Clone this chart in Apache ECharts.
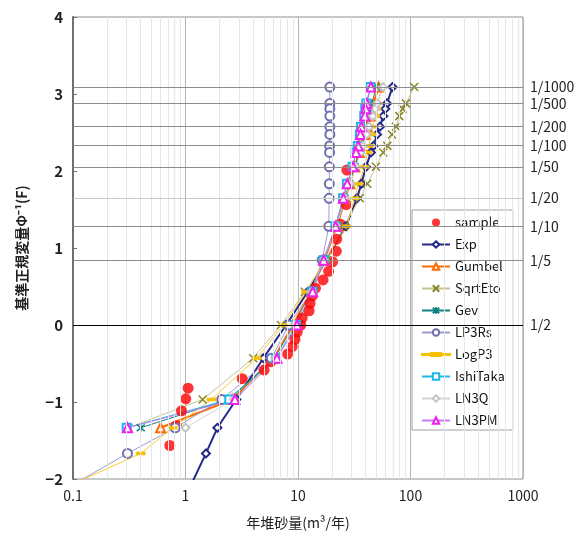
<!DOCTYPE html>
<html lang="ja">
<head>
<meta charset="UTF-8">
<title>年堆砂量 確率紙</title>
<script src="https://cdn.jsdelivr.net/npm/echarts@6/dist/echarts.min.js"></script>
<style>
  html, body { margin: 0; padding: 0; background: #fff; }
  #main { width: 588px; height: 538px; }
</style>
</head>
<body>
<div id="main"></div>
<script type="text/javascript">
// 基準正規変量（確率年ごと）
var zLevels = [3.090, 2.878, 2.807, 2.713, 2.576, 2.475, 2.326, 2.241, 2.054, 1.834, 1.645, 1.282, 0.842, 0.431, 0, -0.431, -0.967, -1.335, -1.668, -2.326];

// 標本（Cunnane プロット位置）
var sampleZ = [2.013, 1.565, 1.307, 1.115, 0.958, 0.820, 0.697, 0.585, 0.478, 0.377, 0.280, 0.185, 0.092, 0, -0.092, -0.185, -0.280, -0.377, -0.478, -0.585, -0.697, -0.820, -0.958, -1.115, -1.307, -1.565];
var sampleVals = [27.2, 26.8, 23.9, 22.1, 21.9, 20.3, 18.7, 16.7, 14.3, 13.4, 12.8, 12.55, 10.9, 10.6, 9.84, 9.39, 8.88, 8.08, 5.74, 5.0, 3.19, 1.055, 1.006, 0.921, 0.828, 0.725];

// 各分布の推定値
var expVals     = [69.2, 61.8, 59.7, 57.3, 53.5, 50.4, 46.9, 44.5, 40.2, 36.6, 33.4, 26.7, 17.7, 12.2, 7.85, 4.92, 2.83, 1.92, 1.52, 0.93];
var gumbelVals  = [52, 47, 45.5, 43.8, 41.0, 39.2, 36.6, 35.1, 32.0, 28.9, 26.4, 22.2, 17.1, 13.1, 9.0, 6.1, 2.6, 0.6];
var sqrtEtoVals = [108, 91.2, 85.2, 79.5, 74.3, 68.4, 62.2, 57.3, 49.3, 41.3, 35.5, 25.6, 18.1, 11.5, 7.05, 4.0, 1.42, 0.31];
var gevVals     = [49.5, 45.5, 44.2, 42.6, 40.2, 38.5, 36.1, 34.7, 32.0, 28.6, 26.0, 21.9, 16.9, 13.2, 9.2, 6.2, 2.4, 0.4];
var lp3rsVals   = [19.2, 19.2, 19.2, 19.2, 19.2, 19.2, 19.1, 19.1, 19.0, 19.0, 18.9, 18.8, 16.4, 13.1, 8.3, 5.8, 2.1, 0.81, 0.305, 0.05];
var logp3Vals   = [56, 51, 50, 48.7, 46, 44.9, 42.7, 41.4, 39.2, 34.5, 31.7, 27.2, 17.3, 11.8, 7.4, 4.3, 1.7, 0.77, 0.4, 0.04];
var ishiTakaVals= [44.0, 40.5, 39.6, 38.8, 36.3, 35.5, 34.0, 32.5, 30.6, 27.2, 25.1, 21.5, 16.9, 13.4, 9.6, 6.4, 2.45, 0.3];
var ln3qVals    = [57, 50.5, 48.6, 46.2, 42.8, 40.6, 37.6, 35.9, 32.6, 29.0, 26.2, 22.0, 16.9, 13.3, 9.3, 6.3, 2.7, 1.0];
var ln3pmVals   = [44.5, 40.8, 40.0, 39.2, 36.6, 35.9, 34.3, 32.8, 30.9, 27.4, 25.3, 21.6, 16.9, 13.5, 9.8, 6.5, 2.75, 0.305];

// 目盛
var xTicks = [0.1, 1, 10, 100, 1000];
var xTickLabels = ['0.1', '1', '10', '100', '1000'];
var rpZ = [3.090, 2.878, 2.576, 2.326, 2.054, 1.645, 1.282, 0.842, 0];
var rpLabels = ['1/1000', '1/500', '1/200', '1/100', '1/50', '1/20', '1/10', '1/5', '1/2'];

var FONT = 'Noto Sans CJK JP';

// 副目盛（2～9）
var xMinor = [];
for (var d = 0; d < 4; d++) {
    for (var m = 2; m <= 9; m++) {
        xMinor.push(m * xTicks[d]);
    }
}

function pairs(vals) {
    var out = [];
    for (var i = 0; i < vals.length; i++) {
        if (vals[i] != null) out.push([vals[i], zLevels[i]]);
    }
    return out;
}

function lineSeries(name, vals, color, lineColor, width, symbol, size, bw) {
    return {
        name: name,
        type: 'line',
        data: pairs(vals),
        symbol: symbol,
        symbolSize: size,
        showAllSymbol: true,
        z: 3,
        lineStyle: { color: lineColor, width: width },
        itemStyle: { color: color, borderColor: color, borderWidth: bw || 1.2 },
        emphasis: { disabled: true }
    };
}

var myChart = echarts.init(document.getElementById('main'));

var rpLines = [];
for (var i = 0; i < rpZ.length; i++) {
    var c = '#8c8c8c';
    if (rpZ[i] === 0) c = '#000000';
    else if (rpLabels[i] === '1/20') c = '#c8c8c8';
    rpLines.push({ yAxis: rpZ[i], label: { formatter: rpLabels[i] }, lineStyle: { color: c, width: 1, type: 'solid' } });
}

var legendNames = ['sample', 'Exp', 'Gumbel', 'SqrtEto', 'Gev', 'LP3Rs', 'LogP3', 'IshiTaka', 'LN3Q', 'LN3PM'];
var legendData = legendNames.map(function (n) {
    if (n === 'sample') return { name: n, icon: 'circle', itemStyle: { color: '#ff0000' } };
    if (n === 'LogP3') return { name: n, icon: 'path://M0,4.5L28,4.5L28,5.5L0,5.5Z M9,3.5L19,3.5L19,6.5L9,6.5Z' };
    return { name: n };
});

var option = {
    animation: false,
    grid: {
        left: 73, right: 65, top: 17, bottom: 59,
        show: true, borderColor: '#909090', borderWidth: 1
    },
    legend: {
        orient: 'vertical',
        left: 412, top: 210,
        padding: [6, 8, 3, 9],
        itemWidth: 28, itemHeight: 8, itemGap: 9,
        backgroundColor: '#fff',
        borderColor: '#a0a0a0', borderWidth: 1,
        textStyle: { fontFamily: FONT, fontSize: 13, color: '#111' },
        data: legendData
    },
    xAxis: {
        type: 'log', logBase: 10, min: 0.1, max: 1000,
        name: '年堆砂量(m³/年)',
        nameLocation: 'middle', nameGap: 37,
        nameTextStyle: { fontFamily: FONT, fontSize: 14, color: '#222' },
        axisLine: { show: true, lineStyle: { color: '#909090' } },
        axisTick: { show: false },
        axisLabel: {
            fontFamily: FONT, fontSize: 14, color: '#222', margin: 10,
            formatter: function (v) {
                for (var k = 0; k < xTicks.length; k++) {
                    if (Math.abs(Math.log10(v) - Math.log10(xTicks[k])) < 1e-6) return xTickLabels[k];
                }
                return '';
            }
        },
        splitLine: { show: true, lineStyle: { color: '#b4b4b4', width: 1 } }
    },
    yAxis: {
        type: 'value', min: -2, max: 4, interval: 1,
        name: '基準正規変量Φ⁻¹(F)',
        nameLocation: 'middle', nameGap: 44,
        nameTextStyle: { fontFamily: FONT, fontSize: 14, fontWeight: 'bold', color: '#222' },
        axisLine: { show: true, lineStyle: { color: '#707070', width: 2 } },
        axisTick: { show: true, inside: true, length: 4, lineStyle: { color: '#707070' } },
        axisLabel: {
            fontFamily: FONT, fontSize: 15, fontWeight: 'bold', color: '#222', margin: 10,
            formatter: function (v) { return String(v).replace('-', '−'); }
        },
        splitLine: { show: false }
    },
    series: [
        {
            name: 'grid',
            type: 'line',
            data: [],
            z: 1,
            silent: true,
            markLine: {
                silent: true,
                symbol: ['none', 'none'],
                animation: false,
                label: { show: false },
                lineStyle: { color: '#e6e6e6', width: 1, type: 'solid' },
                data: xMinor.map(function (v) { return { xAxis: v }; })
            }
        },
        {
            name: 'rp',
            type: 'line',
            data: [],
            z: 2,
            silent: true,
            markLine: {
                silent: true,
                symbol: ['none', 'none'],
                animation: false,
                label: {
                    show: true, position: 'end', distance: 7,
                    fontFamily: FONT, fontSize: 14, color: '#222'
                },
                data: rpLines
            }
        },
        {
            name: 'sample',
            type: 'scatter',
            data: sampleVals.map(function (v, i) { return [v, sampleZ[i]]; }),
            symbol: 'circle',
            symbolSize: 11,
            z: 3,
            itemStyle: { color: '#ff0000' },
            emphasis: { disabled: true }
        },
        lineSeries('Exp', expVals, '#27278a', '#27278a', 2, 'emptyDiamond', 8),
        lineSeries('Gumbel', gumbelVals, '#ff6a00', '#ff6a00', 2, 'emptyTriangle', 9),
        lineSeries('SqrtEto', sqrtEtoVals, '#86862a', '#c4c48e', 1, 'path://M0,0L10,10M10,0L0,10', 8, 1.5),
        lineSeries('Gev', gevVals, '#0f8080', '#0f8080', 1, 'path://M0,0L10,10M10,0L0,10M5,-1L5,11', 8, 1.5),
        lineSeries('LP3Rs', lp3rsVals, '#6f6fae', '#9c9cd0', 1, 'emptyCircle', 9),
        lineSeries('LogP3', logp3Vals, '#f5c000', '#f7cc30', 1, 'rect', [9, 3], 0.5),
        lineSeries('IshiTaka', ishiTakaVals, '#1bb8ec', '#1bb8ec', 1, 'emptyRect', 8),
        lineSeries('LN3Q', ln3qVals, '#c4c4c4', '#d4d4d4', 1, 'emptyDiamond', 8),
        lineSeries('LN3PM', ln3pmVals, '#f020f0', '#c878f0', 1, 'emptyTriangle', 9)
    ]
};

myChart.setOption(option);
</script>
</body>
</html>
